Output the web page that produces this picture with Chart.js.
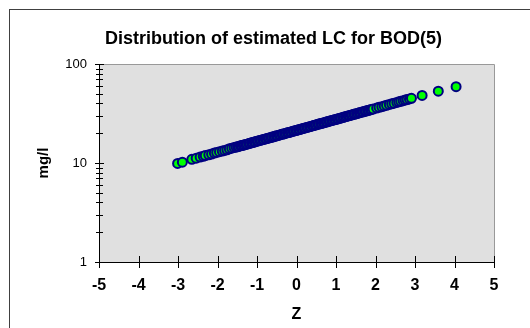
<!DOCTYPE html>
<html>
<head>
<meta charset="utf-8">
<title>Distribution of estimated LC for BOD(5)</title>
<script src="https://cdn.jsdelivr.net/npm/chart.js@4.4.0/dist/chart.umd.min.js"></script>
<style>
  body { margin: 0; background: #fff; }
  #wrap { position: relative; width: 530px; height: 328px; overflow: hidden; }
  #frame { position: absolute; left: 9px; top: 9px; width: 600px; height: 400px; border: 1px solid #404040; }
  #lc-chart { position: absolute; left: 0; top: 0; }
  #chart-title {
    position: absolute; left: 0; top: 27px; width: 547px;
    text-align: center; color: #000;
    font: bold 18px "Liberation Sans", Arial, sans-serif; line-height: 22px;
  }
</style>
</head>
<body>
<div id="wrap">
  <div id="frame"></div>
  <canvas id="lc-chart" width="530" height="328"></canvas>
  <div id="chart-title">Distribution of estimated LC for BOD(5)</div>
</div>
<script>
// Standard normal score of each estimate, sorted ascending
const zScores = [
  -3.01, -2.89, -2.65, -2.54, -2.44, -2.36, -2.31, -2.22, -2.15, -2.08,
  -2.02, -1.95, -1.88, -1.82, -1.76, -1.70, -1.64, -1.58, -1.53, -1.49,
  -1.46, -1.42, -1.39, -1.35, -1.32, -1.28, -1.25, -1.21, -1.18, -1.14,
  -1.11, -1.07, -1.04, -1.00, -0.97, -0.93, -0.90, -0.86, -0.83, -0.79,
  -0.76, -0.72, -0.69, -0.65, -0.62, -0.58, -0.55, -0.51, -0.48, -0.44,
  -0.41, -0.37, -0.34, -0.30, -0.27, -0.23, -0.20, -0.16, -0.13, -0.09,
  -0.06, -0.02, 0.01, 0.05, 0.08, 0.12, 0.15, 0.19, 0.22, 0.26,
  0.29, 0.33, 0.36, 0.40, 0.43, 0.47, 0.50, 0.54, 0.57, 0.61,
  0.64, 0.68, 0.71, 0.75, 0.78, 0.82, 0.85, 0.89, 0.92, 0.96,
  0.99, 1.03, 1.06, 1.10, 1.13, 1.17, 1.20, 1.24, 1.27, 1.31,
  1.34, 1.38, 1.41, 1.45, 1.48, 1.52, 1.55, 1.59, 1.62, 1.66,
  1.69, 1.73, 1.76, 1.80, 1.83, 1.87, 1.90, 1.94, 2.03, 2.09,
  2.16, 2.22, 2.28, 2.35, 2.41, 2.47, 2.54, 2.59, 2.64, 2.70,
  2.75, 2.80, 2.86, 2.91, 3.18, 3.59, 4.04
];

// Estimated LC, mg/l (same order as zScores)
const lcValues = [
  9.9, 10.2, 10.9, 11.2, 11.5, 11.7, 11.9, 12.1, 12.3, 12.6,
  12.8, 13.0, 13.2, 13.4, 13.6, 13.9, 14.1, 14.3, 14.5, 14.6,
  14.7, 14.9, 15.0, 15.1, 15.3, 15.4, 15.5, 15.7, 15.8, 16.0,
  16.1, 16.3, 16.4, 16.6, 16.7, 16.9, 17.0, 17.2, 17.3, 17.5,
  17.6, 17.8, 17.9, 18.1, 18.3, 18.4, 18.6, 18.8, 18.9, 19.1,
  19.3, 19.5, 19.6, 19.8, 20.0, 20.2, 20.3, 20.5, 20.7, 20.9,
  21.1, 21.3, 21.4, 21.7, 21.8, 22.1, 22.2, 22.5, 22.6, 22.9,
  23.0, 23.3, 23.4, 23.7, 23.9, 24.1, 24.3, 24.6, 24.7, 25.0,
  25.2, 25.4, 25.6, 25.9, 26.1, 26.4, 26.6, 26.8, 27.1, 27.3,
  27.5, 27.8, 28.0, 28.3, 28.5, 28.8, 29.1, 29.4, 29.6, 29.9,
  30.1, 30.4, 30.7, 31.0, 31.2, 31.5, 31.8, 32.1, 32.4, 32.7,
  32.9, 33.3, 33.5, 33.9, 34.1, 34.5, 34.8, 35.1, 35.9, 36.5,
  37.1, 37.7, 38.3, 39.0, 39.6, 40.2, 40.9, 41.5, 42.0, 42.6,
  43.2, 43.7, 44.4, 45.0, 48.2, 53.2, 59.0
];

// Axis ticks
const xTicks = [-5, -4, -3, -2, -1, 0, 1, 2, 3, 4, 5];
const yTickLabels = [1, 10, 100];
const yMinorTicks = [2, 3, 4, 5, 6, 7, 8, 9, 20, 30, 40, 50, 60, 70, 80, 90];

const fontFamily = '"Liberation Sans", Arial, sans-serif';

// Grey plot background, grey top/right edge and tick marks crossing the axes
const plotFrame = {
  id: "plotFrame",
  beforeDraw(chart) {
    const { ctx, chartArea: a } = chart;
    ctx.save();
    ctx.fillStyle = "#e0e0e0";
    ctx.fillRect(a.left, a.top, a.right - a.left, a.bottom - a.top);
    ctx.restore();
  },
  beforeDatasetsDraw(chart) {
    const { ctx, chartArea: a, scales } = chart;
    ctx.save();
    ctx.lineWidth = 1;

    ctx.strokeStyle = "#999";
    ctx.beginPath();
    ctx.moveTo(a.left, a.top + 0.5);
    ctx.lineTo(a.right + 0.5, a.top + 0.5);
    ctx.lineTo(a.right + 0.5, a.bottom);
    ctx.stroke();

    ctx.strokeStyle = "#000";
    ctx.beginPath();
    xTicks.forEach(v => {
      const x = Math.round(scales.x.getPixelForValue(v)) + 0.5;
      ctx.moveTo(x, a.bottom - 6);
      ctx.lineTo(x, a.bottom + 6);
    });
    yTickLabels.forEach(v => {
      const y = Math.round(scales.y.getPixelForValue(v)) + 0.5;
      ctx.moveTo(a.left - 4, y);
      ctx.lineTo(a.left + 5, y);
    });
    yMinorTicks.forEach(v => {
      const y = Math.round(scales.y.getPixelForValue(v)) + 0.5;
      ctx.moveTo(a.left - 3, y);
      ctx.lineTo(a.left + 4, y);
    });
    ctx.stroke();
    ctx.restore();
  }
};

const points = zScores.map((z, i) => ({ x: z, y: lcValues[i] }));

new Chart(document.getElementById("lc-chart"), {
  type: "scatter",
  data: {
    datasets: [
      {
        label: "LC",
        data: points,
        backgroundColor: "#00ff00",
        borderColor: "#000080",
        borderWidth: 2,
        pointRadius: 4.5
      }
    ]
  },
  options: {
    responsive: false,
    animation: false,
    events: [],
    layout: { padding: { left: 20, top: 64, right: 36, bottom: 0 } },
    plugins: {
      legend: { display: false },
      tooltip: { enabled: false }
    },
    scales: {
      x: {
        type: "linear",
        min: -5,
        max: 5,
        afterBuildTicks: scale => { scale.ticks = xTicks.map(v => ({ value: v })); },
        afterFit: scale => { scale.height = 66; },
        grid: { display: false, drawTicks: false },
        border: { display: true, color: "#000", width: 1 },
        ticks: {
          color: "#000",
          padding: 14,
          maxRotation: 0,
          font: { family: fontFamily, size: 16, weight: "bold" }
        },
        title: {
          display: true,
          text: "Z",
          color: "#000",
          font: { family: fontFamily, size: 16, weight: "bold" },
          padding: { top: 0, bottom: 4 }
        }
      },
      y: {
        type: "logarithmic",
        min: 1,
        max: 100,
        afterBuildTicks: scale => { scale.ticks = yTickLabels.map(v => ({ value: v })); },
        afterFit: scale => { scale.width = 79; },
        grid: { display: false, drawTicks: false },
        border: { display: true, color: "#000", width: 1 },
        ticks: {
          color: "#000",
          padding: 12,
          font: { family: fontFamily, size: 13 },
          callback: v => String(v)
        },
        title: {
          display: true,
          text: "mg/l",
          color: "#000",
          font: { family: fontFamily, size: 15, weight: "bold" },
          padding: { top: 15, bottom: 0 }
        }
      }
    }
  },
  plugins: [plotFrame]
});
</script>
</body>
</html>
